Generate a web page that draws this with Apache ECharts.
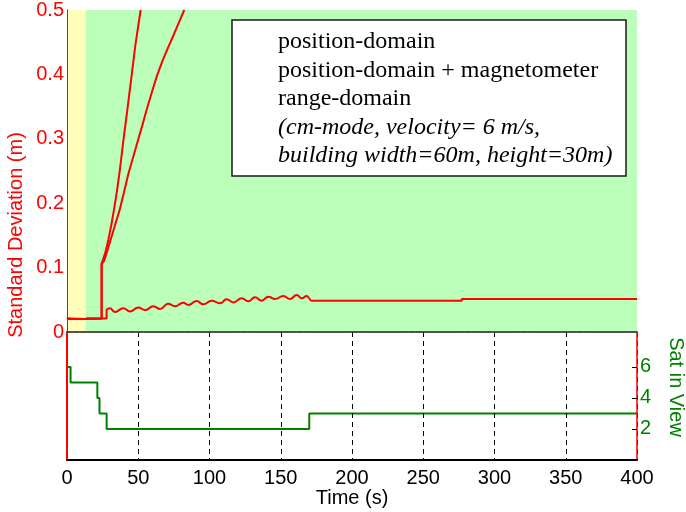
<!DOCTYPE html>
<html>
<head>
<meta charset="utf-8">
<script src="https://cdn.jsdelivr.net/npm/echarts@6/dist/echarts.min.js"></script>
<style>
  html, body { margin: 0; padding: 0; background: #ffffff; }
  #chart { width: 686px; height: 512px; }
</style>
</head>
<body>
<div id="chart"></div>
<script>
// Standard deviation (m) of the three estimators against time (s): [time, std]
const positionDomain = [
  [0, 0.020], [3, 0.0205], [13, 0.020], [14, 0.021], [24.3, 0.021],
  [24.3, 0.106], [25, 0.109], [27, 0.124], [29, 0.143], [31, 0.165],
  [33, 0.190], [35, 0.218], [37, 0.250], [39.5, 0.296], [42, 0.339],
  [45, 0.392], [48, 0.446], [51.7, 0.5]
];
const positionDomainMag = [
  [0, 0.020], [3, 0.0205], [13, 0.020], [14, 0.021], [24.3, 0.021],
  [24.3, 0.106], [26, 0.110], [28, 0.124], [31, 0.146], [34, 0.168],
  [37, 0.190], [40, 0.217], [43, 0.245], [46.5, 0.272], [50, 0.299],
  [53, 0.322], [56, 0.346], [59.5, 0.372], [63, 0.397], [67, 0.421],
  [71, 0.442], [75, 0.462], [79, 0.483], [82.3, 0.5]
];
const rangeDomain = [
  [0, 0.020], [1.5, 0.0213], [3, 0.020], [13, 0.020], [14, 0.0213], [24.3, 0.021],
  [27.8, 0.021], [27.8, 0.035], [30, 0.037], [33.7, 0.031], [39.5, 0.037],
  [44.2, 0.032], [50, 0.038], [54.7, 0.034], [60.6, 0.040], [65.3, 0.0357],
  [71, 0.044], [75.8, 0.040], [81.5, 0.0455], [85.1, 0.042], [91, 0.048],
  [95.7, 0.043], [101.5, 0.0486], [107.4, 0.0446], [112, 0.0507], [116.7, 0.046],
  [122.6, 0.0523], [127.2, 0.0476], [131.9, 0.0538], [136.6, 0.0486], [141.3, 0.0549],
  [146, 0.0512], [151.8, 0.0559], [156.5, 0.0512], [161.2, 0.0575], [164.7, 0.0523],
  [168.2, 0.0559], [171.7, 0.0486], [277, 0.0486], [277, 0.0512], [400, 0.0512]
];

// Satellites in view: count holds from each time until the next one
const satTime = [0, 2.5, 21.3, 22.8, 27.8, 170, 400];
const satCount = [6, 5, 4, 3, 2, 3, 3];

// Axes
const timeTicks = [0, 50, 100, 150, 200, 250, 300, 350, 400];
const stdTicks = [0, 0.1, 0.2, 0.3, 0.4, 0.5];
const satTicks = [2, 4, 6];
const satMax = 8.25;

// Shaded time bands behind the upper panel
const bandStarts = [0, 13];
const bandEnds = [13, 400];
const bandColors = ['#ffffbb', '#bbffbb'];

const legendLines = [
  'position-domain',
  'position-domain + magnetometer',
  'range-domain'
];
const noteLines = [
  '(cm-mode, velocity= 6 m/s,',
  'building width=60m, height=30m)'
];

const RED = '#ff0000';
const GREEN = '#008000';
const SANS = '"Liberation Sans", Arial, Helvetica, sans-serif';
const SERIF = '"Liberation Serif", "Times New Roman", serif';

const chart = echarts.init(document.getElementById('chart'), null, { renderer: 'canvas' });

const satData = satTime.map((t, i) => [t, satCount[i]]);
const bands = bandStarts.map((s, i) => [
  { xAxis: s, itemStyle: { color: bandColors[i], opacity: 1 } },
  { xAxis: bandEnds[i] }
]);

const legendTop = 20, legendLeft = 232, legendW = 394, legendH = 156;
const lineY = [42, 70.5, 99, 127.5, 156];
const textItems = legendLines.concat(noteLines).map((txt, i) => ({
  type: 'text',
  x: 278,
  y: lineY[i],
  z: 101,
  style: {
    text: txt,
    fill: '#000',
    font: (i >= legendLines.length ? 'italic ' : '') + '24px ' + SERIF,
    align: 'left',
    verticalAlign: 'middle'
  }
}));

const lineStyleRed = { color: RED, width: 2 };

chart.setOption({
  animation: false,
  backgroundColor: '#ffffff',
  grid: [
    { left: 67, top: 10, width: 570, height: 322 },
    { left: 67, top: 332, width: 570, height: 128 }
  ],
  xAxis: [
    {
      gridIndex: 0, type: 'value', position: 'bottom', z: 5,
      min: timeTicks[0], max: timeTicks[timeTicks.length - 1], interval: 50,
      axisLine: { show: true, lineStyle: { color: '#f2c7a3', width: 1, type: [4, 3] } },
      axisTick: { show: false }, axisLabel: { show: false }, splitLine: { show: false }
    },
    {
      gridIndex: 0, type: 'value', position: 'top', z: 5,
      min: timeTicks[0], max: timeTicks[timeTicks.length - 1], interval: 50,
      axisLine: { show: true, lineStyle: { color: '#222', width: 1.5 } },
      axisTick: { show: false }, axisLabel: { show: false }, splitLine: { show: false }
    },
    {
      gridIndex: 1, type: 'value', position: 'bottom', z: 5,
      min: timeTicks[0], max: timeTicks[timeTicks.length - 1], interval: 50,
      axisLine: { show: true, onZero: false, lineStyle: { color: '#000', width: 2 } },
      axisTick: { show: false },
      axisLabel: { color: '#000', fontSize: 20, fontFamily: SANS, margin: 8,
        customValues: timeTicks },
      splitLine: { show: true, lineStyle: { color: '#000', width: 1, type: [5, 4] } },
      name: 'Time (s)', nameLocation: 'middle', nameGap: 28,
      nameTextStyle: { color: '#000', fontSize: 20, fontFamily: SANS }
    }
  ],
  yAxis: [
    {
      gridIndex: 0, type: 'value', position: 'left', z: 5,
      min: stdTicks[0], max: stdTicks[stdTicks.length - 1], interval: 0.1,
      axisLine: { show: true, lineStyle: { color: RED, width: 1 } },
      axisTick: { show: false },
      axisLabel: { color: RED, fontSize: 20, fontFamily: SANS, margin: 3,
        customValues: stdTicks, formatter: v => (v === 0 ? '0' : v.toFixed(1)) },
      splitLine: { show: false }
    },
    {
      gridIndex: 0, type: 'value', position: 'right', z: 5,
      min: stdTicks[0], max: stdTicks[stdTicks.length - 1],
      axisLine: { show: true, lineStyle: { color: RED, width: 1 } },
      axisTick: { show: false }, axisLabel: { show: false }, splitLine: { show: false }
    },
    {
      gridIndex: 1, type: 'value', position: 'left', z: 5,
      min: 0, max: satMax,
      axisLine: { show: true, onZero: false, lineStyle: { color: RED, width: 2 } },
      axisTick: { show: false }, axisLabel: { show: false }, splitLine: { show: false }
    },
    {
      gridIndex: 1, type: 'value', position: 'right', z: 5,
      min: 0, max: satMax,
      axisLine: { show: true, onZero: false, lineStyle: { color: RED, width: 1.5 } },
      axisTick: { show: true, inside: true, length: 5, customValues: satTicks,
        lineStyle: { color: '#000', width: 1 } },
      axisLabel: { color: GREEN, fontSize: 20, fontFamily: SANS, margin: 3,
        customValues: satTicks },
      splitLine: { show: false }
    }
  ],
  series: [
    {
      name: 'range-domain', type: 'line', xAxisIndex: 0, yAxisIndex: 0,
      data: rangeDomain, showSymbol: false, smooth: 0.5, smoothMonotone: 'x',
      lineStyle: lineStyleRed, itemStyle: { color: RED }, z: 3,
      markArea: { silent: true, z: 1, data: bands }
    },
    {
      name: 'position-domain', type: 'line', xAxisIndex: 0, yAxisIndex: 0,
      data: positionDomain, showSymbol: false,
      lineStyle: lineStyleRed, itemStyle: { color: RED }, z: 3
    },
    {
      name: 'position-domain + magnetometer', type: 'line', xAxisIndex: 0, yAxisIndex: 0,
      data: positionDomainMag, showSymbol: false,
      lineStyle: lineStyleRed, itemStyle: { color: RED }, z: 3
    },
    {
      name: 'Sat in View', type: 'line', xAxisIndex: 2, yAxisIndex: 3,
      data: satData, step: 'end', showSymbol: false,
      lineStyle: { color: GREEN, width: 2 }, itemStyle: { color: GREEN }, z: 3
    }
  ],
  graphic: [
    {
      type: 'rect', z: 100,
      shape: { x: legendLeft, y: legendTop, width: legendW, height: legendH },
      style: { fill: '#ffffff', stroke: '#1a1a1a', lineWidth: 1.5 }
    },
    ...textItems,
    {
      type: 'text', x: 16, y: 235, rotation: Math.PI / 2, z: 101,
      style: { text: 'Standard Deviation (m)', fill: RED, font: '20px ' + SANS,
        align: 'center', verticalAlign: 'middle' }
    },
    {
      type: 'text', x: 676, y: 387, rotation: -Math.PI / 2, z: 101,
      style: { text: 'Sat in View', fill: GREEN, font: '20px ' + SANS,
        align: 'center', verticalAlign: 'middle' }
    }
  ]
});
</script>
</body>
</html>
